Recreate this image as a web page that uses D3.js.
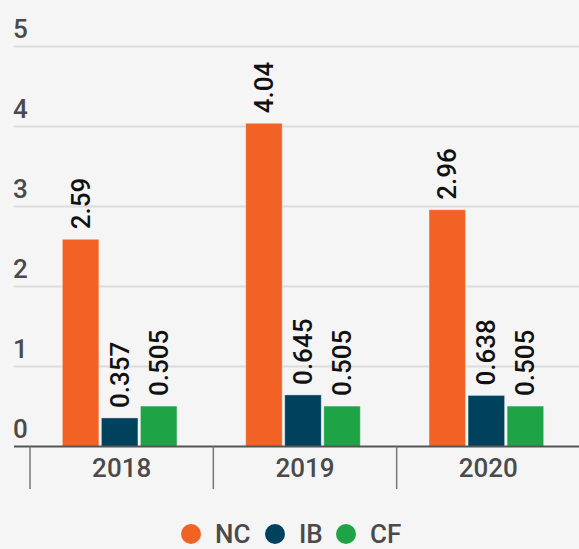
<!DOCTYPE html>
<html lang="en">
<head>
    <meta charset="UTF-8">
    <style>
        body { margin: 0; background: #f5f5f5; }
        svg { display: block; font-family: Roboto, sans-serif; }
    </style>
    <script src="https://cdn.jsdelivr.net/npm/d3@7"></script>
</head>
<body>
    <div id="chart"></div>
    <script>
        var years = ['2018', '2019', '2020'];
        var seriesNames = ['NC', 'IB', 'CF'];
        var seriesColors = ['#f26224', '#00425e', '#1ea446'];
        var ncValues = [2.59, 4.04, 2.96];
        var ibValues = [0.357, 0.645, 0.638];
        var cfValues = [0.505, 0.505, 0.505];
        var yTicks = [0, 1, 2, 3, 4, 5];

        var width = 579, height = 549;
        var values = { NC: ncValues, IB: ibValues, CF: cfValues };

        var svg = d3.select('#chart').append('svg')
            .attr('width', width)
            .attr('height', height);

        var x0 = d3.scaleBand().domain(years).range([30, 580]);
        var x1 = d3.scaleBand().domain(seriesNames)
            .range([-2, x0.bandwidth() - 2])
            .paddingInner(0.065)
            .paddingOuter(0.88);
        var y = d3.scaleLinear().domain([0, 5]).range([446.5, 46.5]);
        var colour = d3.scaleOrdinal().domain(seriesNames).range(seriesColors);

        // gridlines + tick labels
        var grid = svg.append('g');
        grid.selectAll('line')
            .data(yTicks.filter(function (d) { return d > 0; }))
            .enter().append('line')
            .attr('x1', 14).attr('x2', width)
            .attr('y1', function (d) { return y(d); })
            .attr('y2', function (d) { return y(d); })
            .attr('stroke', '#dcdcdc')
            .attr('stroke-width', 2);
        grid.selectAll('text')
            .data(yTicks)
            .enter().append('text')
            .attr('x', 13)
            .attr('y', function (d) { return y(d) - 9; })
            .attr('fill', '#4a4a4a')
            .style('font-size', '26px')
            .style('font-weight', 500)
            .text(function (d) { return d; });

        // bars
        var rows = [];
        years.forEach(function (yr, i) {
            seriesNames.forEach(function (s) {
                rows.push({ year: yr, series: s, value: values[s][i] });
            });
        });

        var bars = svg.append('g').selectAll('g')
            .data(rows)
            .enter().append('g')
            .attr('transform', function (d) {
                return 'translate(' + (x0(d.year) + x1(d.series)) + ',0)';
            });

        bars.append('rect')
            .attr('y', function (d) { return y(d.value); })
            .attr('width', x1.bandwidth())
            .attr('height', function (d) { return y(0) - y(d.value); })
            .attr('fill', function (d) { return colour(d.series); })
            .attr('stroke', 'rgba(255,255,255,0.35)')
            .attr('stroke-width', 1);

        bars.append('text')
            .attr('transform', function (d) {
                return 'translate(' + (x1.bandwidth() / 2 + 9) + ',' + (y(d.value) - 10) + ') rotate(-90)';
            })
            .attr('fill', '#111')
            .style('font-size', '26px')
            .style('font-weight', 500)
            .text(function (d) { return d.value; });

        // x axis
        var axis = svg.append('g');
        axis.append('line')
            .attr('x1', 14).attr('x2', width)
            .attr('y1', y(0)).attr('y2', y(0))
            .attr('stroke', '#555')
            .attr('stroke-width', 2);
        axis.selectAll('.tick')
            .data(years)
            .enter().append('line')
            .attr('x1', function (d) { return x0(d); })
            .attr('x2', function (d) { return x0(d); })
            .attr('y1', y(0)).attr('y2', 489)
            .attr('stroke', '#777')
            .attr('stroke-width', 1.5);
        axis.selectAll('text')
            .data(years)
            .enter().append('text')
            .attr('x', function (d) { return x0(d) + x0.bandwidth() / 2; })
            .attr('y', 477)
            .attr('text-anchor', 'middle')
            .attr('fill', '#4a4a4a')
            .style('font-size', '26px')
            .style('font-weight', 500)
            .text(function (d) { return d; });

        // legend (kept just inside the bottom edge)
        var legendX = [191, 275, 346];
        var legend = svg.append('g').selectAll('g')
            .data(seriesNames)
            .enter().append('g')
            .attr('transform', function (d, i) { return 'translate(' + legendX[i] + ',534)'; });
        legend.append('circle')
            .attr('r', 10)
            .attr('fill', function (d) { return colour(d); });
        legend.append('text')
            .attr('x', 24)
            .attr('y', 9)
            .attr('fill', '#4a4a4a')
            .style('font-size', '26px')
            .style('font-weight', 500)
            .text(function (d) { return d; });
    </script>
</body>
</html>
